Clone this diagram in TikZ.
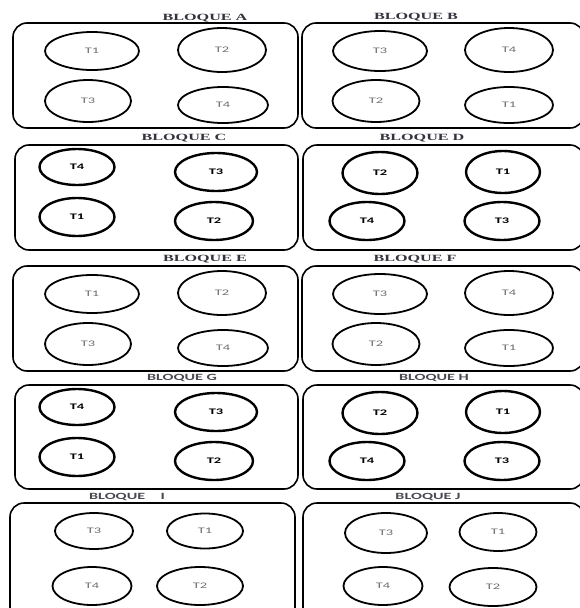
\documentclass[tikz,border=0pt]{standalone}
\usepackage{fontspec}
\usepackage{graphicx}
\usepackage{tikz}
\usetikzlibrary{shapes.geometric}
\usepackage{xcolor}

\newfontfamily\carlito{Carlito}
\newfontfamily\libserif{Liberation Serif}
\definecolor{titulogris}{HTML}{34343E}
\definecolor{titulosans}{HTML}{4A4A52}
\definecolor{tgris}{HTML}{6E6E6E}
\newcommand{\ancho}[1]{\scalebox{1.7}[1]{#1}}

\tikzset{
  bloque/.style={draw, line width=1.6pt, rounded corners=14pt},
  tfin/.style={draw, ellipse, line width=1.8pt, inner sep=0pt, text=tgris,
    font=\fontsize{8.5}{9}\selectfont\carlito},
  tgrueso/.style={tfin, line width=2.4pt, text=black,
    font=\fontsize{8.5}{9}\selectfont\carlito\bfseries},
  titserif/.style={inner sep=0pt, text=titulogris,
    font=\fontsize{9.5}{10}\selectfont\libserif\bfseries},
  titsans/.style={inner sep=0pt, text=titulosans,
    font=\fontsize{9.5}{10}\selectfont\carlito\bfseries}
}

\begin{document}
\begin{tikzpicture}[x=1pt, y=-1pt]
  \useasboundingbox (0,0) rectangle (580,608);

  % marcos de los bloques
  \draw[bloque] (13,23) rectangle (298,128);
  \draw[bloque] (302,23) rectangle (584,128);
  \draw[bloque] (15,145) rectangle (298,250);
  \draw[bloque] (303,145) rectangle (584,250);
  \draw[bloque] (13,266) rectangle (298,371);
  \draw[bloque] (302,266) rectangle (584,371);
  \draw[bloque] (15,385) rectangle (298,489);
  \draw[bloque] (303,385) rectangle (584,489);
  \draw[bloque] (10,503) rectangle (295,625);
  \draw[bloque] (303,503) rectangle (584,625);

  % titulos
  \node[titserif] (tA) at (205,18) {\ancho{BLOQUE A}};
  \node[titserif] (tB) at (416,17) {\ancho{BLOQUE B}};
  \node[titserif] (tC) at (184,138) {\ancho{BLOQUE C}};
  \node[titserif] (tD) at (422,138) {\ancho{BLOQUE D}};
  \node[titserif] (tE) at (205,259) {\ancho{BLOQUE E}};
  \node[titserif] (tF) at (415,259) {\ancho{BLOQUE F}};
  \node[titsans] (tG) at (182,378) {\ancho{BLOQUE G}};
  \node[titsans] (tH) at (434,378) {\ancho{BLOQUE H}};
  \node[titsans] (tI) at (127,497) {\ancho{BLOQUE\hspace{9pt}I}};
  \node[titsans] (tJ) at (428,497) {\ancho{BLOQUE J}};

  % tratamientos, bloque A y E
  \foreach \b/\d in {A/0, E/243}
    \foreach \n/\x/\y/\w/\h in {T1/92/51/94/38, T2/222/50/88/44,
                                T3/88/101/86/42, T4/223/105/90/36}
      \node[tfin, minimum width=\w pt, minimum height=\h pt]
        (\b\n) at (\x,\y+\d) {\ancho{\n}};

  % bloque B y F
  \foreach \b/\d in {B/0, F/243}
    \foreach \n/\x/\y/\w/\h in {T3/380/51/94/40, T4/509/50/88/44,
                                T2/376/101/87/42, T1/509/105/88/36}
      \node[tfin, minimum width=\w pt, minimum height=\h pt]
        (\b\n) at (\x,\y+\d) {\ancho{\n}};

  % bloque C y G
  \foreach \b/\d in {C/0, G/240}
    \foreach \n/\x/\y/\w/\h in {T4/77/167/75/36, T3/216/172/82/38,
                                T1/77/217/75/38, T2/214/221/78/38}
      \node[tgrueso, minimum width=\w pt, minimum height=\h pt]
        (\b\n) at (\x,\y+\d) {\ancho{\n}};

  % bloque D y H
  \foreach \b/\d in {D/0, H/240}
    \foreach \n/\x/\y/\w/\h in {T2/380/173/75/42, T1/503/172/74/42,
                                T4/367/221/75/38, T3/502/221/75/38}
      \node[tgrueso, minimum width=\w pt, minimum height=\h pt]
        (\b\n) at (\x,\y+\d) {\ancho{\n}};

  % bloque I
  \foreach \n/\x/\y/\w/\h in {T3/94/531/78/36, T1/205/531/76/35,
                              T4/92/586/79/38, T2/200/586/86/38}
    \node[tfin, minimum width=\w pt, minimum height=\h pt]
      (I\n) at (\x,\y) {\ancho{\n}};

  % bloque J
  \foreach \n/\x/\y/\w/\h in {T3/386/533/82/40, T1/498/532/77/38,
                              T4/383/586/79/38, T2/493/587/87/38}
    \node[tfin, minimum width=\w pt, minimum height=\h pt]
      (J\n) at (\x,\y) {\ancho{\n}};
\end{tikzpicture}
\end{document}
